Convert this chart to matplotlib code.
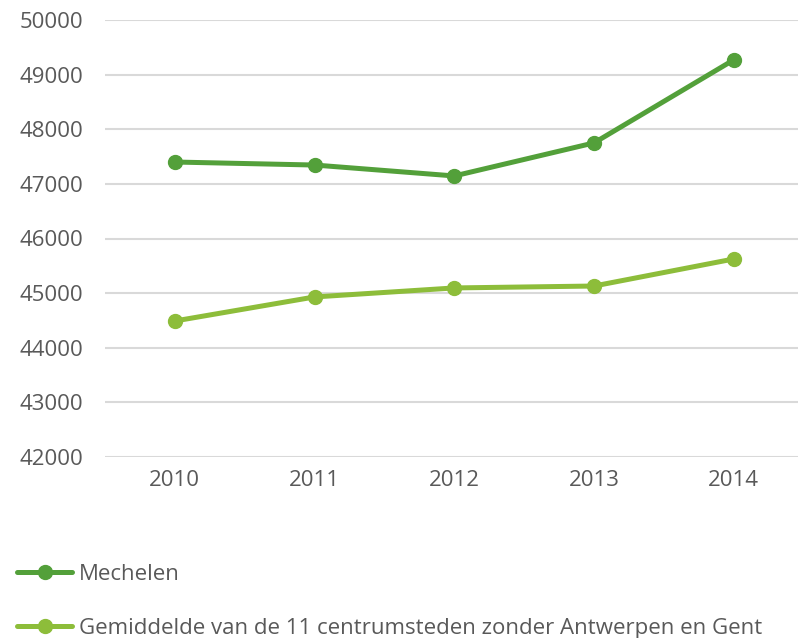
import matplotlib.pyplot as plt

plt.rcParams["font.family"] = ["Open Sans", "DejaVu Sans"]

YEARS = ["2010", "2011", "2012", "2013", "2014"]
MECHELEN = [47400, 47345, 47145, 47750, 49270]
AVG_11 = [44490, 44930, 45095, 45130, 45625]
LABELS = ["Mechelen", "Gemiddelde van de 11 centrumsteden zonder Antwerpen en Gent"]
COLORS = ["#53a03a", "#8dbd3a"]
TEXT = "#595959"

fig = plt.figure(figsize=(7.98, 6.38), dpi=100)
ax = fig.add_axes([105 / 798, 1 - 457 / 638, 1 - 105 / 798, (457 - 20) / 638])

x = range(len(YEARS))
for vals, lab, col in zip([MECHELEN, AVG_11], LABELS, COLORS):
    ax.plot(x, vals, color=col, lw=3.6, marker="o", ms=10, label=lab,
            solid_capstyle="round", zorder=3)

ax.set_ylim(42000, 50000)
ax.set_yticks(range(42000, 50001, 1000))
ax.set_xlim(-0.5, 4.46)
ax.set_xticks(list(x))
ax.set_xticklabels(YEARS)
ax.grid(axis="y", color="#d9d9d9", lw=1.5)
ax.set_axisbelow(True)
for s in ax.spines.values():
    s.set_visible(False)
ax.tick_params(length=0, labelsize=16, colors=TEXT)
ax.tick_params(axis="y", pad=16)
ax.tick_params(axis="x", pad=9)

fig.legend(loc="upper left", bbox_to_anchor=(17 / 798, 1 - 564 / 638),
           frameon=False, fontsize=16, handlelength=2.48, handletextpad=0.3,
           labelspacing=1.48, borderpad=0, borderaxespad=0, labelcolor=TEXT)

fig.savefig("out.png", dpi=100, facecolor="white")
